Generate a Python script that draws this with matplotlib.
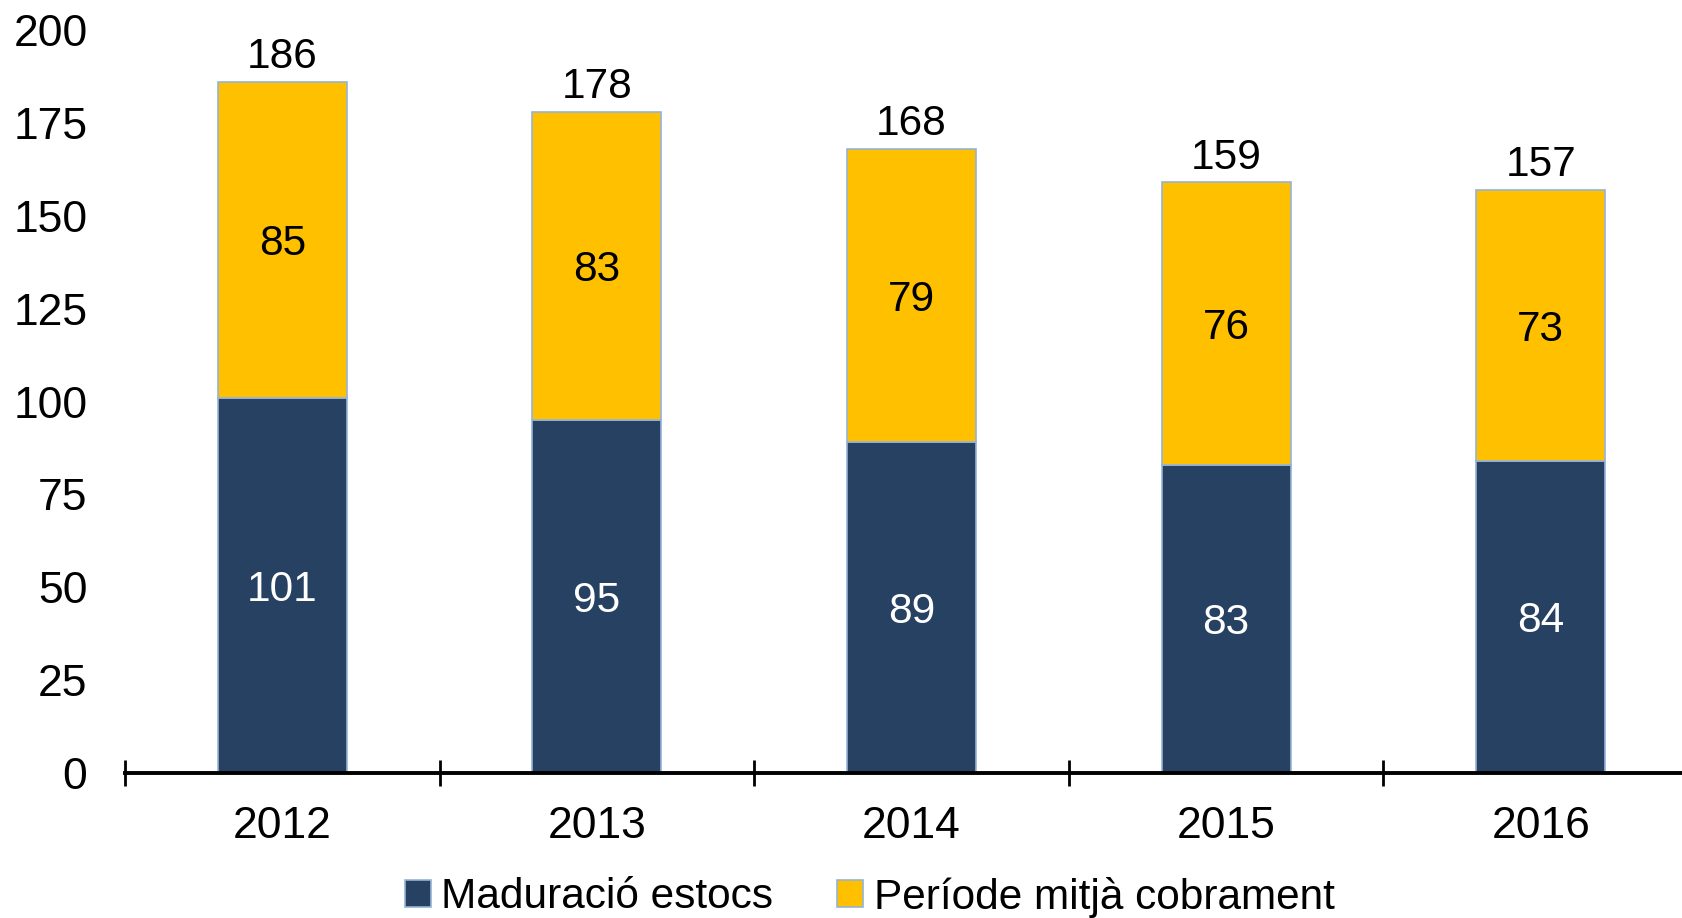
import numpy as np
import matplotlib as mpl
mpl.use('Agg')
from matplotlib import pyplot as plt
from matplotlib.ticker import FixedLocator

plt.rcParams['font.family'] = ['Liberation Sans', 'DejaVu Sans']

## ------------------------------------------------------------------
##  Data
## ------------------------------------------------------------------
years = ['2012', '2013', '2014', '2015', '2016']
maduracio = [101, 95, 89, 83, 84]
cobrament = [85, 83, 79, 76, 73]
totals = [186, 178, 168, 159, 157]

navy = '#264162'
gold = '#FFC000'
edge = '#95B3D7'

W, H = 1682, 918
fig = plt.figure(figsize=(W / 100, H / 100), dpi=100)
# axes placed in pixel terms: left 125, right 1682, y=0 at 773, y=200 at 30
ax = fig.add_axes([125 / W, 1 - 773 / H, (W - 125) / W, (773 - 30) / H])

x = np.arange(len(years))
width = 0.41
b1 = ax.bar(x, maduracio, width, color=navy, edgecolor=edge, linewidth=1.2,
            label='Maduració estocs', zorder=2)
b2 = ax.bar(x, cobrament, width, bottom=maduracio, color=gold, edgecolor=edge,
            linewidth=1.2, label='Període mitjà cobrament', zorder=2)

fs = 30.5
for xi, m, c, t in zip(x, maduracio, cobrament, totals):
    ax.text(xi, m / 2, str(m), ha='center', va='center_baseline', color='white', fontsize=fs)
    ax.text(xi, m + c / 2, str(c), ha='center', va='center_baseline', color='black', fontsize=fs)
    ax.annotate(str(t), (xi, t), xytext=(0, 21), textcoords='offset points',
                ha='center', va='center_baseline', color='black', fontsize=fs)

ax.set_xlim(-0.5, -0.5 + (W - 125) / 314.6)
ax.set_ylim(0, 200)
ax.set_yticks(np.arange(0, 201, 25))
ax.tick_params(axis='y', length=0, pad=27, labelsize=32)

ax.set_xticks(x)
ax.set_xticklabels(years)
ax.xaxis.set_minor_locator(FixedLocator(np.arange(-0.5, 4.6, 1.0)))
ax.tick_params(axis='x', which='major', length=0, pad=24, labelsize=32)
ax.tick_params(axis='x', which='minor', direction='inout', length=19, width=2)

for s in ['top', 'right', 'left']:
    ax.spines[s].set_visible(False)
ax.spines['bottom'].set_linewidth(2.8)
ax.spines['bottom'].set_zorder(3)

leg = fig.legend(handles=[b1, b2], loc='center', bbox_to_anchor=(0.517, 1 - 897 / H),
                 ncol=2, frameon=False, fontsize=30.5, handlelength=0.62, handleheight=0.62,
                 handletextpad=0.25, columnspacing=1.5, borderaxespad=0)

fig.savefig('out.png', dpi=100)
